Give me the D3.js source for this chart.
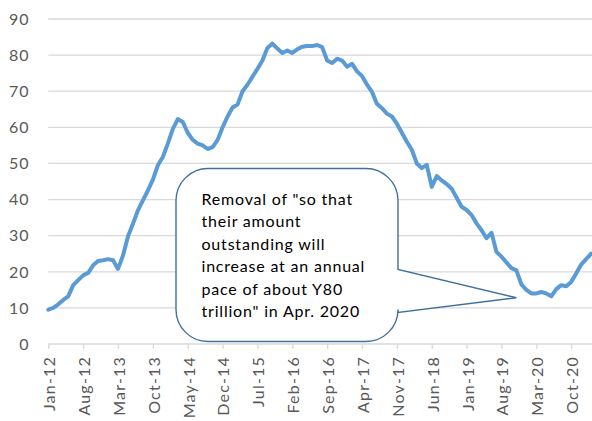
<!DOCTYPE html>
<html>
<head>
<meta charset="utf-8">
<script src="https://cdn.jsdelivr.net/npm/d3@7"></script>
<style>
  body { margin: 0; background: #fff; }
  svg { display: block; font-family: Lato, "Noto Sans", sans-serif; }
</style>
</head>
<body>
<div id="chart"></div>
<script>
"use strict";

// monthly values, Jan-12 .. Feb-21
var values = [
  9.5, 10, 11, 12.2, 13.2, 16.3, 17.7, 19, 19.7, 21.8, 23, 23.2,
  23.5, 23.2, 20.8, 24.5, 29.8, 33.3, 37, 39.8, 42.5, 45.5, 49.5, 51.8,
  55.5, 59.5, 62.3, 61.5, 58.5, 56.5, 55.5, 55, 54, 54.5, 56.5, 60,
  63, 65.5, 66.3, 70, 71.8, 74, 76.2, 78.5, 82, 83.2, 81.8, 80.6,
  81.3, 80.6, 81.6, 82.3, 82.5, 82.5, 82.8, 82.2, 78.5, 77.8, 79, 78.5,
  76.8, 77.6, 75.5, 74.2, 71.8, 69.8, 66.5, 65.3, 63.8, 63, 61, 58.5,
  56, 53.8, 50, 48.7, 49.6, 43.5, 46.5, 45.3, 44.3, 43, 40.5, 38,
  37.1, 35.7, 33.4, 31.5, 29.3, 30.8, 25.5, 24.2, 22.6, 21, 20.4, 16.5,
  15, 14, 14, 14.4, 14, 13.2, 15.2, 16.3, 16, 17.2, 19.5, 22,
  23.5, 25
];

var tickLabels = ["Jan-12", "Aug-12", "Mar-13", "Oct-13", "May-14", "Dec-14",
  "Jul-15", "Feb-16", "Sep-16", "Apr-17", "Nov-17", "Jun-18", "Jan-19",
  "Aug-19", "Mar-20", "Oct-20"];

var yTicks = [0, 10, 20, 30, 40, 50, 60, 70, 80, 90];

var calloutLines = [
  "Removal of \"so that",
  "their amount",
  "outstanding will",
  "increase at an annual",
  "pace of about Y80",
  "trillion\" in Apr. 2020"
];

var width = 592, height = 421;

var svg = d3.select("#chart")
  .append("svg")
  .attr("width", width)
  .attr("height", height);

var x = d3.scaleLinear()
  .domain([0, values.length - 1])
  .range([48.3, 591.1]);

var y = d3.scaleLinear()
  .domain([0, 90])
  .range([344, 19]);

// gridlines
svg.append("g")
  .selectAll("line")
  .data(yTicks.slice(1))
  .enter()
  .append("line")
  .attr("x1", x(0))
  .attr("x2", width)
  .attr("y1", function (d) { return y(d); })
  .attr("y2", function (d) { return y(d); })
  .attr("stroke", "#d9d9d9")
  .attr("stroke-width", 1.3);

// y labels
svg.append("g")
  .selectAll("text")
  .data(yTicks)
  .enter()
  .append("text")
  .attr("x", 29.5)
  .attr("y", function (d) { return y(d); })
  .attr("dy", "0.36em")
  .attr("text-anchor", "end")
  .attr("font-size", "16px")
  .attr("letter-spacing", "1px")
  .attr("fill", "#595959")
  .text(function (d) { return d; });

// x axis
var xAxis = d3.axisBottom(x)
  .tickValues(tickLabels.map(function (d, i) { return i * 7; }))
  .tickFormat(function (d) { return tickLabels[d / 7]; })
  .tickSize(5)
  .tickSizeOuter(0);

var gx = svg.append("g")
  .attr("transform", "translate(0," + y(0) + ")")
  .call(xAxis);

gx.select(".domain").remove();
gx.append("line")
  .attr("x1", x(0)).attr("x2", width)
  .attr("stroke", "#d9d9d9").attr("stroke-width", 1.3);
gx.selectAll(".tick line").attr("stroke", "#d9d9d9").attr("stroke-width", 1.3);
gx.selectAll(".tick text")
  .attr("transform", "rotate(-90)")
  .attr("x", -12)
  .attr("y", 0)
  .attr("dy", "0.4em")
  .attr("text-anchor", "end")
  .attr("font-size", "16px")
  .attr("letter-spacing", "1.2px")
  .attr("font-family", "Lato, 'Noto Sans', sans-serif")
  .attr("fill", "#595959");

// the line
var line = d3.line()
  .x(function (d, i) { return x(i); })
  .y(function (d) { return y(d); });

svg.append("path")
  .datum(values)
  .attr("d", line)
  .attr("fill", "none")
  .attr("stroke", "#5b9bd5")
  .attr("stroke-width", 4)
  .attr("stroke-linejoin", "round")
  .attr("stroke-linecap", "round");

// callout box
var bx0 = 176, bx1 = 398, by0 = 168.5, by1 = 341.5, r = 32;
var tip = [x(94), y(12.8)];
var p = d3.path();
p.moveTo(bx0 + r, by0);
p.lineTo(bx1 - r, by0);
p.arcTo(bx1, by0, bx1, by0 + r, r);
p.lineTo(bx1, 269.5);
p.lineTo(tip[0], tip[1]);
p.lineTo(bx1, 312.5);
p.lineTo(bx1, by1 - r);
p.arcTo(bx1, by1, bx1 - r, by1, r);
p.lineTo(bx0 + r, by1);
p.arcTo(bx0, by1, bx0, by1 - r, r);
p.lineTo(bx0, by0 + r);
p.arcTo(bx0, by0, bx0 + r, by0, r);
p.closePath();

svg.append("path")
  .attr("d", p.toString())
  .attr("fill", "#fff")
  .attr("stroke", "#41719c")
  .attr("stroke-width", 1.4);

svg.append("g")
  .selectAll("text")
  .data(calloutLines)
  .enter()
  .append("text")
  .attr("x", 201.5)
  .attr("y", function (d, i) { return 205 + i * 22.4; })
  .attr("font-size", "16px")
  .attr("letter-spacing", "0.8px")
  .attr("fill", "#000")
  .text(function (d) { return d; });
</script>
</body>
</html>
